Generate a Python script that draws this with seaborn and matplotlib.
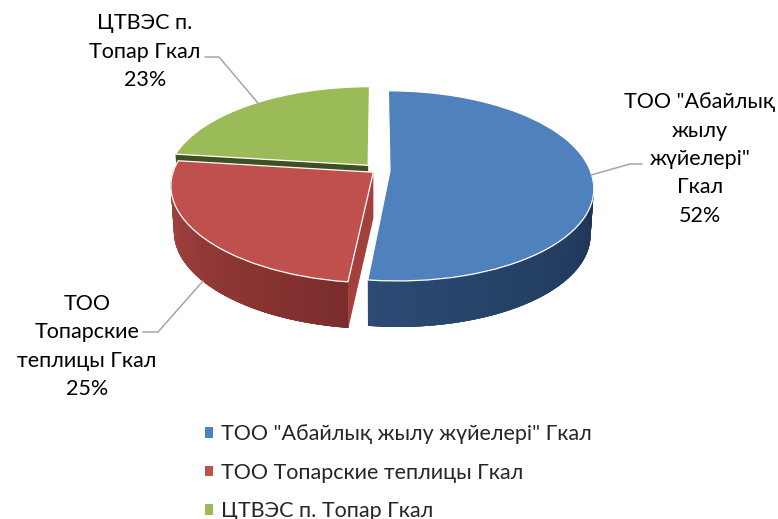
import numpy as np
import matplotlib
matplotlib.use('Agg')
import matplotlib.pyplot as plt
import seaborn as sns
from matplotlib.transforms import Transform

# values
categories = ['ТОО "Абайлық жылу жүйелері" Гкал', 'ТОО Топарские теплицы Гкал', 'ЦТВЭС п. Топар Гкал']
shares = [52, 25, 23]
wrapped = ['ТОО "Абайлық\nжылу\nжүйелері"\nГкал', 'ТОО\nТопарские\nтеплицы Гкал', 'ЦТВЭС п.\nТопар Гкал']
colors = ['#4f81bd', '#c0504d', '#9bbb59']
wall_colors = [('#2b4b74', '#1c3150'), ('#aa4644', '#7a2d2b'), ('#3f4f22', '#3f4f22')]

sns.set_theme(style='white')
plt.rcParams['font.family'] = ['Lato', 'Noto Sans', 'DejaVu Sans']

X0, Y0 = 378, 170.5    # pie centre on the picture
RX, RY = 200, 92.6     # flattening
TILT = 0.158           # perspective strength
DEPTH = 46


class Tilted(Transform):
    # flat pie -> picture pixels, far side smaller than near side
    input_dims = 2
    output_dims = 2

    def transform_non_affine(self, xy):
        xy = np.asarray(xy)
        d = 1 + TILT * xy[:, 1]
        near = np.clip(-xy[:, 1] / d, 0, None)
        return np.column_stack((X0 + RX * xy[:, 0] / d + 4.5 * near, Y0 - RY * xy[:, 1] / d))


tilted = Tilted()


def drop(pts):
    out = np.array(pts, dtype=float)
    out[:, 0] = X0 + (out[:, 0] - X0) * 0.985
    out[:, 1] += DEPTH
    return out


fig = plt.figure(figsize=(7.78, 5.19), dpi=100)
ax = fig.add_axes([0, 0, 1, 1])
wedges, _ = ax.pie(shares, colors=colors, startangle=90, counterclock=False,
                   explode=[0.06, 0.03, 0.075], radius=1,
                   wedgeprops={'edgecolor': 'white', 'linewidth': 0.9})
ax.set_aspect('auto')
ax.set_xlim(0, 778)
ax.set_ylim(519, 0)
ax.axis('off')

# back to front: green, red, blue
for z, i in enumerate([2, 1, 0]):
    w = wedges[i]
    w.set_transform(tilted + ax.transData)
    w.set_zorder(z * 3 + 2)
    cx, cy = w.center
    apex = tilted.transform_non_affine(np.array([[cx, cy]]))

    t = np.linspace(w.theta1, w.theta2, 160)
    t = t[np.sin(np.radians(t)) < 0.1]
    rim = tilted.transform_non_affine(np.column_stack((cx + np.cos(np.radians(t)), cy + np.sin(np.radians(t)))))
    low = drop(rim)
    shades = sns.blend_palette(wall_colors[i], len(t))
    # strips overlap the next ones so no seams show between them
    for k in range(len(t) - 1):
        e = min(k + 4, len(t) - 1)
        quad = np.vstack((rim[k:e + 1], low[k:e + 1][::-1]))
        ax.fill(quad[:, 0], quad[:, 1], color=shades[k], lw=0, zorder=z * 3)

    # cut faces
    if i == 0:
        continue
    face_col = '#3f4f22' if i == 2 else '#a33f3c'
    edge = np.radians(w.theta2)
    tip = tilted.transform_non_affine(np.array([[cx + np.cos(edge), cy + np.sin(edge)]]))
    top = np.vstack((apex, tip))
    face = np.vstack((top, drop(top)[::-1]))
    ax.fill(face[:, 0], face[:, 1], color=face_col, lw=0, zorder=z * 3 + 1)

# data labels
fs = 15.5
label_pos = [(700, 159), (87, 346.5), (145, 51.5)]
for name, share, (lx, ly) in zip(wrapped, shares, label_pos):
    ax.text(lx, ly, f'{name}\n{share}%', ha='center', va='center', fontsize=fs,
            linespacing=1.52, color='black', zorder=20)

# leader lines
grey = '#a6a6a6'
ax.plot([591, 630, 642], [175, 164, 164], color=grey, lw=1.1, zorder=15)
ax.plot([203, 158, 143], [281, 332, 332], color=grey, lw=1.1, zorder=15)
ax.plot([258, 219, 205], [103, 57, 57], color=grey, lw=1.1, zorder=15)

leg = ax.legend(wedges, categories, loc='upper left', bbox_to_anchor=(205, 424),
                bbox_transform=ax.transData, frameon=False, fontsize=fs,
                handlelength=0.37, handleheight=0.37, handletextpad=0.38,
                labelspacing=0.86, borderpad=0, borderaxespad=0)
for h in leg.legend_handles:
    h.set_linewidth(0)

fig.savefig('out.png', dpi=100)
